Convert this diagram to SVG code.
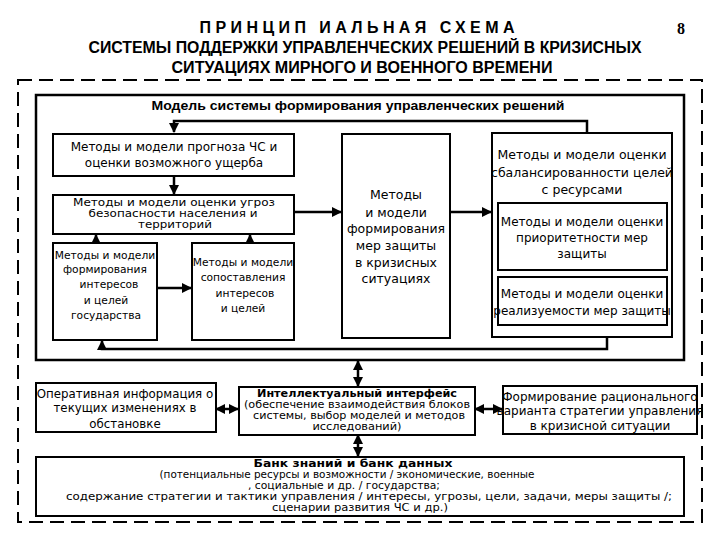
<svg xmlns="http://www.w3.org/2000/svg" width="720" height="540" viewBox="0 0 720 540">
<defs>
<marker id="ah" viewBox="0 0 10 10" refX="9" refY="5" markerWidth="4" markerHeight="4" orient="auto-start-reverse">
<path d="M0,0 L10,5 L0,10 z" fill="#000"/>
</marker>
<style>
.t{font-family:"DejaVu Sans",Verdana,sans-serif;fill:#000;text-anchor:middle}
.hd{font-family:"Liberation Sans",Arial,sans-serif;font-weight:bold;fill:#000;text-anchor:middle}
.box{fill:#fff;stroke:#000;stroke-width:2}
.ln{fill:none;stroke:#000;stroke-width:2.5}
</style>
</defs>
<rect width="720" height="540" fill="#fff"/>
<g id="title">
<text class="hd" x="357" y="33" font-size="16" textLength="315" lengthAdjust="spacing">ПРИНЦИП ИАЛЬНАЯ СХЕМА</text>
<text class="hd" x="365" y="53" font-size="16" textLength="553" lengthAdjust="spacingAndGlyphs">СИСТЕМЫ ПОДДЕРЖКИ УПРАВЛЕНЧЕСКИХ РЕШЕНИЙ В КРИЗИСНЫХ</text>
<text class="hd" x="362" y="73" font-size="16" textLength="381" lengthAdjust="spacingAndGlyphs">СИТУАЦИЯХ МИРНОГО И ВОЕННОГО ВРЕМЕНИ</text>
<text x="681" y="34" font-family="'Liberation Serif',serif" font-weight="bold" font-size="16" text-anchor="middle">8</text>
</g>
<rect x="18" y="80" width="684" height="442" fill="none" stroke="#000" stroke-width="2" stroke-dasharray="14 7"/>
<g id="model">
<rect x="36" y="95" width="648" height="265" fill="none" stroke="#000" stroke-width="2.5"/>
<text class="hd" x="358" y="110" font-size="13" textLength="413" lengthAdjust="spacingAndGlyphs">Модель системы формирования управленческих решений</text>
</g>
<g id="connectors">
<polyline class="ln" points="587,133 587,121 174,121 174,132" marker-end="url(#ah)"/>
<line class="ln" x1="174" y1="176" x2="174" y2="194" marker-end="url(#ah)"/>
<line class="ln" x1="96" y1="243" x2="96" y2="235" marker-end="url(#ah)"/>
<line class="ln" x1="250" y1="243" x2="250" y2="235" marker-end="url(#ah)"/>
<line class="ln" x1="157" y1="288" x2="191" y2="288" marker-end="url(#ah)"/>
<line class="ln" x1="294" y1="212" x2="341" y2="212" marker-end="url(#ah)"/>
<line class="ln" x1="450" y1="212" x2="491" y2="212" marker-end="url(#ah)"/>
<polyline class="ln" points="607,337 607,349 102,349 102,341" marker-end="url(#ah)"/>
<line class="ln" x1="358" y1="361" x2="358" y2="386" marker-start="url(#ah)" marker-end="url(#ah)"/>
<line class="ln" x1="216" y1="409" x2="238" y2="409" marker-start="url(#ah)" marker-end="url(#ah)"/>
<line class="ln" x1="475" y1="409" x2="502" y2="409" marker-start="url(#ah)" marker-end="url(#ah)"/>
<line class="ln" x1="358" y1="435" x2="358" y2="456" marker-start="url(#ah)" marker-end="url(#ah)"/>
</g>
<g id="n1">
<rect class="box" x="53" y="134" width="241" height="42"/>
<text class="t" font-size="12"><tspan x="174" y="151">Методы и модели прогноза ЧС и</tspan><tspan x="174" y="167">оценки  возможного ущерба</tspan></text>
</g>
<g id="n2">
<rect class="box" x="53" y="195" width="241" height="39"/>
<text class="t" font-size="10.5"><tspan x="174" y="206" textLength="202" lengthAdjust="spacingAndGlyphs">Методы и модели оценки угроз</tspan><tspan x="173" y="217" textLength="169" lengthAdjust="spacingAndGlyphs">безопасности населения и</tspan><tspan x="175" y="228" textLength="74" lengthAdjust="spacingAndGlyphs">территорий</tspan></text>
</g>
<g id="n3">
<rect class="box" x="53" y="243" width="104" height="97"/>
<text class="t" font-size="10.7"><tspan x="105" y="259">Методы и модели</tspan><tspan x="105" y="273">формирования</tspan><tspan x="109" y="288">интересов</tspan><tspan x="106" y="304">и  целей</tspan><tspan x="106" y="319">государства</tspan></text>
</g>
<g id="n4">
<rect class="box" x="192" y="243" width="102" height="97"/>
<text class="t" font-size="10.7"><tspan x="243" y="266">Методы и модели</tspan><tspan x="243" y="281">сопоставления</tspan><tspan x="245" y="297">интересов</tspan><tspan x="243" y="312">и  целей</tspan></text>
</g>
<g id="n5">
<rect class="box" x="342" y="134" width="108" height="204"/>
<text class="t" font-size="12.5"><tspan x="396" y="199">Методы</tspan><tspan x="396" y="217">и модели</tspan><tspan x="396" y="233">формирования</tspan><tspan x="396" y="250">мер защиты</tspan><tspan x="396" y="267">в кризисных</tspan><tspan x="396" y="283">ситуациях</tspan></text>
</g>
<g id="n6">
<rect class="box" x="492" y="133" width="180" height="204"/>
<text class="t" font-size="12.5"><tspan x="582" y="159">Методы и модели оценки</tspan><tspan x="582" y="177">сбалансированности целей</tspan><tspan x="582" y="194">с ресурсами</tspan></text>
</g>
<g id="n7">
<rect class="box" x="498" y="203" width="169" height="67"/>
<text class="t" font-size="12"><tspan x="582" y="226">Методы и модели оценки</tspan><tspan x="582" y="242">приоритетности мер</tspan><tspan x="582" y="258">защиты</tspan></text>
</g>
<g id="n8">
<rect class="box" x="498" y="277" width="169" height="48"/>
<text class="t" font-size="12"><tspan x="582" y="298">Методы и модели оценки</tspan><tspan x="582" y="315">реализуемости мер защиты</tspan></text>
</g>
<g id="n9">
<rect class="box" x="36" y="383" width="180" height="49"/>
<text class="t" font-size="11.8"><tspan x="125" y="398">Оперативная информация о</tspan><tspan x="125" y="412">текущих изменениях в</tspan><tspan x="125" y="428">обстановке</tspan></text>
</g>
<g id="n10">
<rect class="box" x="239" y="387" width="236" height="48"/>
<text class="t" font-size="10"><tspan x="357" y="397" font-weight="bold" font-size="11" textLength="200" lengthAdjust="spacingAndGlyphs">Интеллектуальный интерфейс</tspan><tspan x="357" y="408" textLength="226" lengthAdjust="spacingAndGlyphs">(обеспечение взаимодействия блоков</tspan><tspan x="359" y="419" textLength="212" lengthAdjust="spacingAndGlyphs">системы, выбор моделей и методов</tspan><tspan x="357" y="430" textLength="89" lengthAdjust="spacingAndGlyphs">исследований)</tspan></text>
</g>
<g id="n11">
<rect class="box" x="503" y="386" width="194" height="48"/>
<text class="t" font-size="12"><tspan x="600" y="401">Формирование рационального</tspan><tspan x="600" y="415">варианта стратегии управления</tspan><tspan x="600" y="430">в кризисной ситуации</tspan></text>
</g>
<g id="n12">
<rect class="box" x="36" y="457" width="648" height="59"/>
<text class="t" font-size="10"><tspan x="353" y="467" font-weight="bold" font-size="11" textLength="199" lengthAdjust="spacingAndGlyphs">Банк знаний и банк данных</tspan><tspan x="347" y="478" textLength="375" lengthAdjust="spacingAndGlyphs">(потенциальные ресурсы и возможности / экономические, военные</tspan><tspan x="344" y="489" textLength="192" lengthAdjust="spacingAndGlyphs">, социальные и др. / государства;</tspan><tspan x="369" y="500" textLength="606" lengthAdjust="spacingAndGlyphs">содержание стратегии и тактики управления / интересы, угрозы, цели, задачи, меры защиты /;</tspan><tspan x="360" y="511" textLength="176" lengthAdjust="spacingAndGlyphs">сценарии развития ЧС и др.)</tspan></text>
</g>
</svg>
